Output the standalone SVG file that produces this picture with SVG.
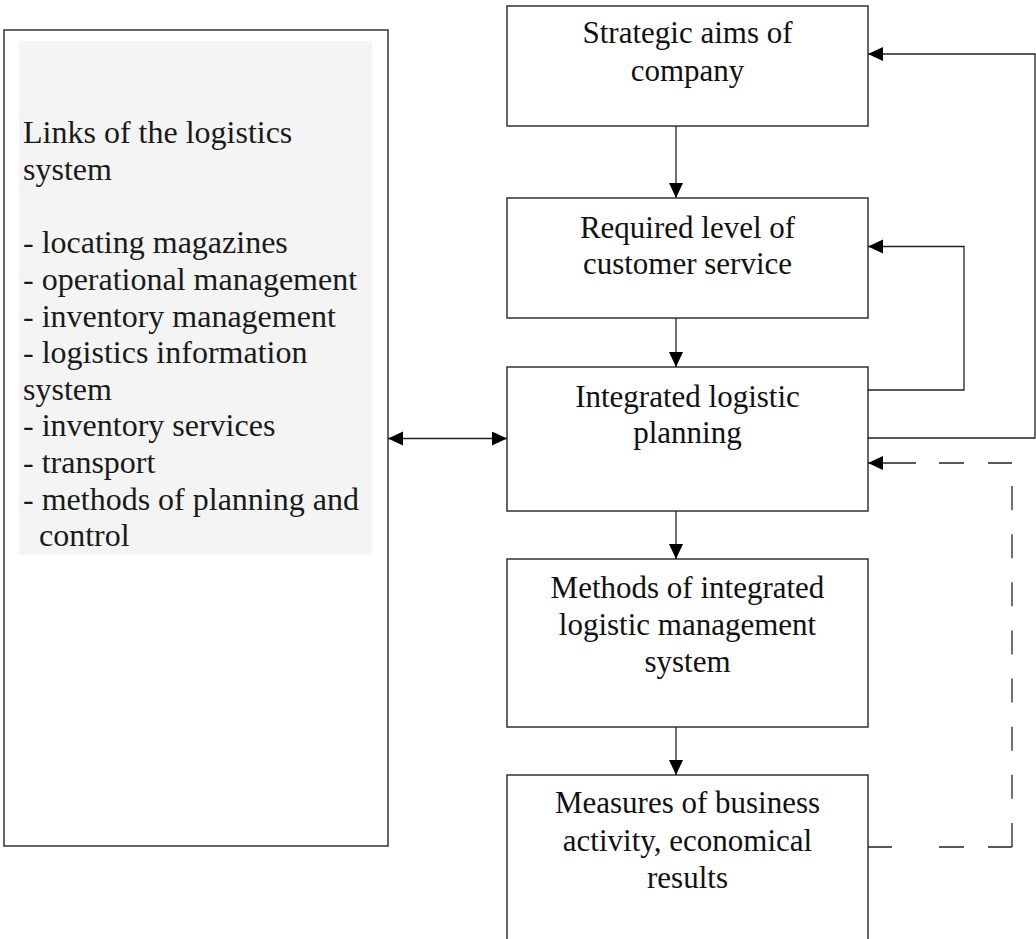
<svg xmlns="http://www.w3.org/2000/svg" width="1036" height="939" viewBox="0 0 1036 939">
  <style>
    .box { fill: #ffffff; stroke: #333333; stroke-width: 1.5; }
    .lt { font-family: "Liberation Serif", "Times New Roman", serif; font-size: 32px; fill: #1a1a1a; }
    .bt { font-family: "Liberation Serif", "Times New Roman", serif; font-size: 31px; fill: #111111; text-anchor: middle; }
    .con { fill: none; stroke: #222222; stroke-width: 1.3; }
  </style>
  <defs>
    <marker id="ah" markerUnits="userSpaceOnUse" markerWidth="16" markerHeight="16" refX="15" refY="7" orient="auto-start-reverse">
      <path d="M0,0 L15,7 L0,14 z" fill="#000000"/>
    </marker>
  </defs>
  <rect width="1036" height="939" fill="#ffffff"/>

  <g id="links">
    <rect class="box" x="4" y="30" width="384" height="816" stroke-width="2"/>
    <rect x="19" y="41" width="353" height="514" fill="#f4f4f4"/>
    <text class="lt" x="23" y="143">Links of the logistics</text>
    <text class="lt" x="23" y="180">system</text>
    <text class="lt" x="23" y="253">- locating magazines</text>
    <text class="lt" x="23" y="289.5">- operational management</text>
    <text class="lt" x="23" y="326.5">- inventory management</text>
    <text class="lt" x="23" y="363">- logistics information</text>
    <text class="lt" x="23" y="399.5">system</text>
    <text class="lt" x="23" y="436">- inventory services</text>
    <text class="lt" x="23" y="472.5">- transport</text>
    <text class="lt" x="23" y="509.5">- methods of planning and</text>
    <text class="lt" x="39" y="546">control</text>
  </g>

  <g id="strategic">
    <rect class="box" x="507" y="6" width="361" height="120"/>
    <text class="bt" x="687.5" y="43">Strategic aims of</text>
    <text class="bt" x="687.5" y="81">company</text>
  </g>

  <g id="required">
    <rect class="box" x="507" y="198" width="361" height="120"/>
    <text class="bt" x="687.5" y="237.5">Required level of</text>
    <text class="bt" x="687.5" y="274">customer service</text>
  </g>

  <g id="integrated">
    <rect class="box" x="507" y="367" width="361" height="144"/>
    <text class="bt" x="687.5" y="406.5">Integrated logistic</text>
    <text class="bt" x="687.5" y="443">planning</text>
  </g>

  <g id="methods">
    <rect class="box" x="507" y="559" width="361" height="168"/>
    <text class="bt" x="687.5" y="598">Methods of integrated</text>
    <text class="bt" x="687.5" y="635">logistic management</text>
    <text class="bt" x="687.5" y="672">system</text>
  </g>

  <g id="measures">
    <rect class="box" x="507" y="775" width="361" height="190"/>
    <text class="bt" x="687.5" y="813">Measures of business</text>
    <text class="bt" x="687.5" y="851">activity, economical</text>
    <text class="bt" x="687.5" y="888">results</text>
  </g>

  <g id="connectors">
    <line class="con" x1="676" y1="126" x2="676" y2="198" marker-end="url(#ah)"/>
    <line class="con" x1="676" y1="318" x2="676" y2="367" marker-end="url(#ah)"/>
    <line class="con" x1="676" y1="511" x2="676" y2="559" marker-end="url(#ah)"/>
    <line class="con" x1="676" y1="727" x2="676" y2="775" marker-end="url(#ah)"/>
    <line class="con" x1="388" y1="438.5" x2="507" y2="438.5" marker-start="url(#ah)" marker-end="url(#ah)"/>
    <path class="con" d="M868,390 H964 V246.5 H868" marker-end="url(#ah)"/>
    <path class="con" d="M868,438 H1035 V54 H868" marker-end="url(#ah)"/>
    <path class="con" d="M868,847 H892 M939,847 H964 M988,847 H1012"/>
    <line class="con" x1="1012" y1="486" x2="1012" y2="847" stroke-dasharray="24 24.14"/>
    <path class="con" d="M1012,463 H988 M964,463 H939 M916,463 H868" marker-end="url(#ah)"/>
  </g>
</svg>
